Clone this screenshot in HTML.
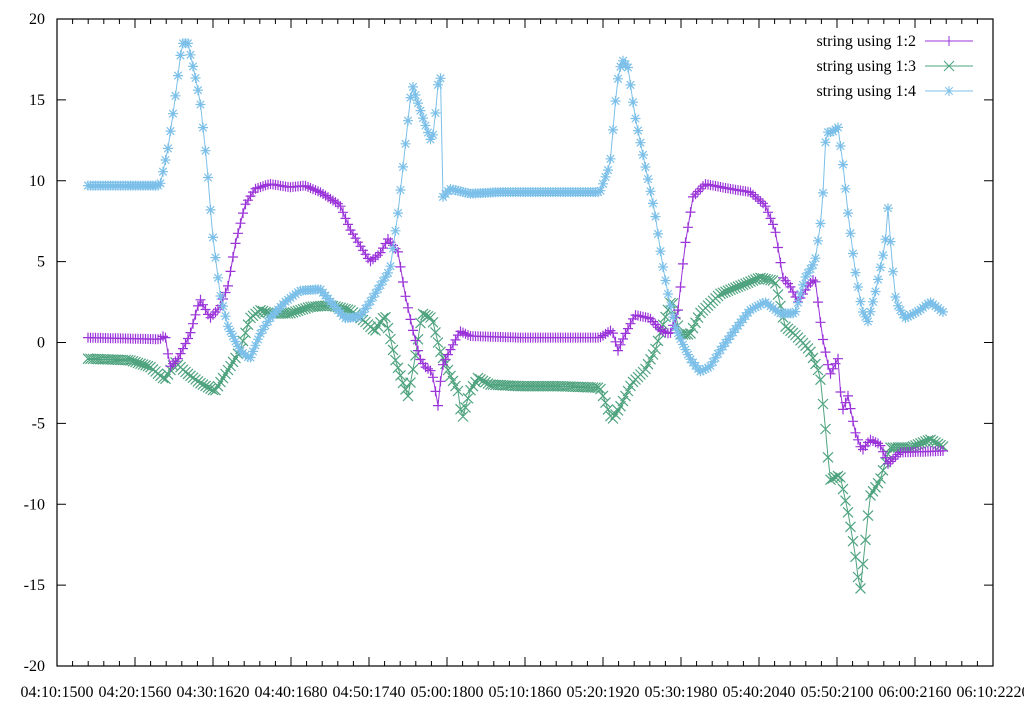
<!DOCTYPE html>
<html><head><meta charset="utf-8"><style>
html,body{margin:0;padding:0;background:#fff}
svg text{font-family:"Liberation Serif",serif;font-size:16px;fill:#000}
</style></head><body>
<svg id="c" width="1024" height="719" xmlns="http://www.w3.org/2000/svg"></svg>
<script>
const svg=document.getElementById('c');
const L=57,R=993,T=19,B=666;
const Y=v=>T+(20-v)*(B-T)/40;
let s='';
s+=`<rect x="${L}" y="${T}" width="${R-L}" height="${B-T}" fill="none" stroke="#000" stroke-width="1.2"/>`;
for(let v=-20;v<=20;v+=5){const y=Y(v);
 s+=`<line x1="${L}" y1="${y}" x2="${L+9}" y2="${y}" stroke="#000"/><line x1="${R}" y1="${y}" x2="${R-9}" y2="${y}" stroke="#000"/>`;
 s+=`<text x="${L-12}" y="${y+5}" text-anchor="end">${v}</text>`;}
const labs=["04:10:1500","04:20:1560","04:30:1620","04:40:1680","04:50:1740","05:00:1800","05:10:1860","05:20:1920","05:30:1980","05:40:2040","05:50:2100","06:00:2160","06:10:2220"];
for(let k=0;k<=12;k++){const x=L+78*k;
 s+=`<line x1="${x}" y1="${B}" x2="${x}" y2="${B-9}" stroke="#000"/><line x1="${x}" y1="${T}" x2="${x}" y2="${T+9}" stroke="#000"/>`;
 if(k<12)for(let m=1;m<5;m++){const xm=x+15.6*m;s+=`<line x1="${xm}" y1="${B}" x2="${xm}" y2="${B-5}" stroke="#000"/><line x1="${xm}" y1="${T}" x2="${xm}" y2="${T+5}" stroke="#000"/>`;}
 s+=`<text x="${x}" y="${B+31}" text-anchor="middle">${labs[k]}</text>`;}
const d1=[[88,0.3],[160,0.2],[165,0.5],[170,-1.5],[178,-1],[190,0.5],[200,2.7],[210,1.5],[220,2.2],[228,3.5],[235,6],[245,8.5],[255,9.5],[270,9.8],[290,9.6],[305,9.7],[320,9.3],[340,8.5],[350,7],[360,6],[370,5],[380,5.5],[388,6.4],[398,5.6],[405,3],[412,1],[420,-1],[425,-1.5],[432,-1.8],[438,-3.9],[442,-1.5],[450,-0.5],[460,0.7],[470,0.4],[520,0.3],[600,0.3],[612,0.8],[618,-0.5],[625,0.5],[635,1.7],[650,1.5],[660,0.8],[670,0.5],[678,2],[685,6],[693,9],[705,9.8],[730,9.5],[750,9.3],[765,8.5],[775,7],[783,4],[790,3.5],[798,2.5],[808,3.5],[815,4],[822,0.5],[830,-2],[838,-1],[842,-4.3],[848,-3.3],[855,-5.5],[862,-6.7],[870,-6],[880,-6.3],[888,-7.5],[900,-6.8],[945,-6.7]];
const d2=[[88,-1],[130,-1.1],[150,-1.5],[165,-2.3],[175,-1.2],[185,-1.8],[200,-2.5],[215,-3],[225,-2],[240,-0.5],[250,1.5],[260,2],[270,1.8],[290,1.8],[310,2.2],[330,2.3],[350,2],[365,1.3],[375,0.7],[385,1.7],[395,-1],[403,-2.5],[408,-3.3],[415,-1],[422,1.8],[432,1.5],[440,-0.5],[450,-2],[458,-3],[462,-4.8],[470,-3],[478,-2.2],[490,-2.6],[520,-2.7],[560,-2.7],[600,-2.8],[612,-4.8],[620,-4],[632,-2.5],[645,-1.7],[655,-0.5],[665,1.5],[672,2.7],[680,0.5],[690,0.5],[700,1.8],[720,3],[740,3.5],[760,4],[775,3.8],[785,1],[795,0.5],[810,-0.5],[820,-2],[825,-5],[830,-8.5],[840,-8.2],[848,-10.5],[855,-13],[860,-15.5],[865,-12.5],[870,-9.5],[880,-8.5],[890,-6.5],[910,-6.5],[930,-6],[945,-6.5]];
const d3=[[88,9.7],[160,9.7],[168,12],[175,15],[182,18.5],[188,18.5],[195,16.5],[200,15],[207,11],[212,7],[220,3],[228,1],[240,-0.5],[250,-1],[260,0.5],[270,1.5],[285,2.5],[300,3.2],[320,3.3],[335,2.2],[345,1.5],[360,1.6],[370,2.5],[380,3.5],[390,4.5],[398,8],[405,12],[412,16],[418,14.8],[425,13.5],[432,12.3],[437,15],[440,17.8],[443,9],[450,9.5],[470,9.2],[500,9.3],[560,9.3],[600,9.3],[610,11],[617,16],[622,17.5],[628,17],[635,14],[645,11],[655,8],[662,5],[668,3],[675,1],[682,0],[690,-1],[700,-1.8],[710,-1.5],[720,-0.5],[735,0.8],[750,2],[765,2.5],[780,1.8],[795,1.8],[805,4],[815,5],[822,8],[826,13],[832,13],[838,13.3],[843,11],[848,8],[855,4.5],[862,2],[868,1.3],[875,3],[880,4.5],[885,6],[888,8.3],[892,5],[896,2.5],[905,1.5],[920,2],[930,2.5],[945,1.8]];
function interp(d,x){for(let i=1;i<d.length;i++){if(x<=d[i][0]){const[a,b]=d[i-1],[c,e]=d[i];return b+(e-b)*(x-a)/(c-a);}}return d[d.length-1][1];}
function mk(t,x,y){const r=5;
 if(t==1)return `M${x-r},${y}h${2*r}M${x},${y-r}v${2*r}`;
 if(t==2)return `M${x-r},${y-r}l${2*r},${2*r}M${x-r},${y+r}l${2*r},${-2*r}`;
 return `M${x-r},${y}h${2*r}M${x},${y-r}v${2*r}M${x-r*.75},${y-r*.75}l${1.5*r},${1.5*r}M${x-r*.75},${y+r*.75}l${1.5*r},${-1.5*r}`;}
function series(d,col,t){let p='',m='';
 for(let x=88;x<=945;x+=2.5){const y=Y(interp(d,x)).toFixed(1);p+=(p?'L':'M')+x+','+y;m+=mk(t,x,+y);}
 return `<path d="${p}" fill="none" stroke="${col}" stroke-width="1"/><path d="${m}" fill="none" stroke="${col}" stroke-width="1.2"/>`;}
s+=series(d2,'#4fa37f',2);
s+=series(d1,'#9a33d8',1);
s+=series(d3,'#7cc0ea',3);
const lg=[['string using 1:2','#9a33d8',1],['string using 1:3','#4fa37f',2],['string using 1:4','#7cc0ea',3]];
lg.forEach((g,i)=>{const y=41+25*i;
 s+=`<text x="916" y="${y+5}" text-anchor="end">${g[0]}</text><line x1="925" y1="${y}" x2="973" y2="${y}" stroke="${g[1]}"/><path d="${mk(g[2],949,y)}" stroke="${g[1]}" fill="none"/>`;});
svg.innerHTML=s;
</script>
</body></html>
